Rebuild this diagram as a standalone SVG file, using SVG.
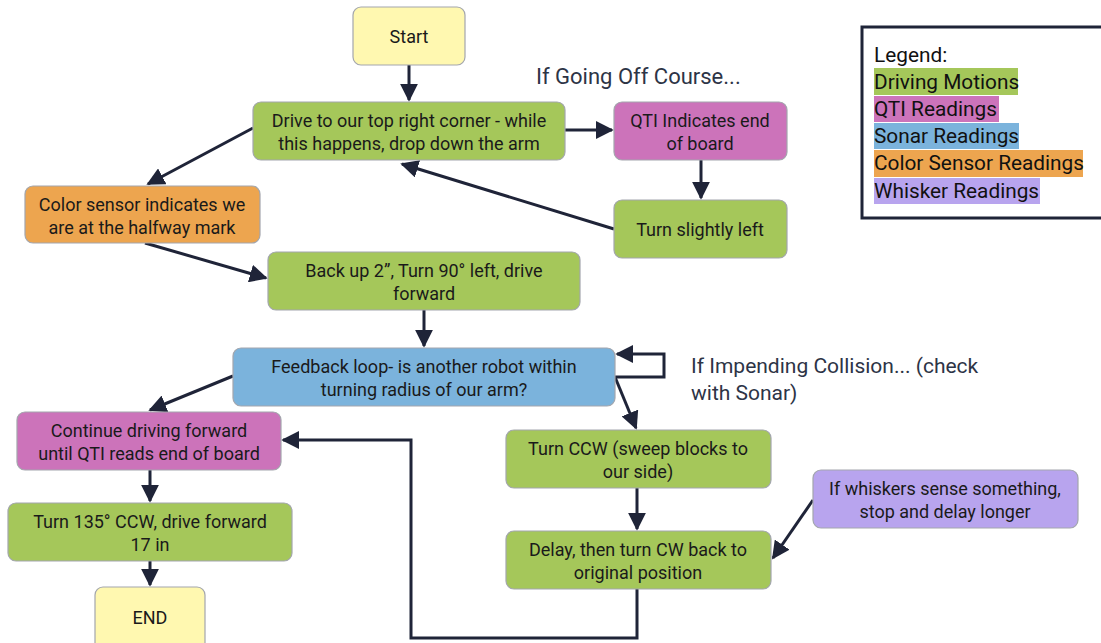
<svg xmlns="http://www.w3.org/2000/svg" width="1101" height="643" viewBox="0 0 1101 643">
<style>
.n{stroke:#a3a6ad;stroke-width:1.2}
.t{font-family:Roboto,"Noto Sans",sans-serif;font-size:18px;fill:#1a1a1a;text-anchor:middle}
.lbl{font-family:Roboto,"Noto Sans",sans-serif;font-size:21px;fill:#2d3446}
.lg{font-family:Roboto,"Noto Sans",sans-serif;font-size:20.8px;fill:#111}
.c{fill:none;stroke:#1f2438;stroke-width:3}
.g{fill:#a5c75a}.p{fill:#cc73ba}.b{fill:#7bb3dc}.o{fill:#eda54f}.v{fill:#b8a4ee}.y{fill:#fff8b0}
</style>
<defs>
<marker id="a" viewBox="0 0 10 10" refX="9" refY="5" markerWidth="6" markerHeight="6" orient="auto" markerUnits="strokeWidth">
<path d="M0,0 L10,5 L0,10 z" fill="#1f2438"/>
</marker>
</defs>
<rect width="1101" height="643" fill="#fff"/>
<g id="connectors">
<path class="c" d="M409,65 V100" marker-end="url(#a)"/>
<path class="c" d="M565,130 H612" marker-end="url(#a)"/>
<path class="c" d="M701,160 V198" marker-end="url(#a)"/>
<path class="c" d="M614,229 L402,164" marker-end="url(#a)"/>
<path class="c" d="M253,128 L148,184" marker-end="url(#a)"/>
<path class="c" d="M145,243 L266,278" marker-end="url(#a)"/>
<path class="c" d="M424,310 V346" marker-end="url(#a)"/>
<path class="c" d="M233,376 L150,410" marker-end="url(#a)"/>
<path class="c" d="M615,377 H664 V354 H617" marker-end="url(#a)"/>
<path class="c" d="M615,377 L636,428" marker-end="url(#a)"/>
<path class="c" d="M637,488 V529" marker-end="url(#a)"/>
<path class="c" d="M813,500 L773,558" marker-end="url(#a)"/>
<path class="c" d="M637,589 V638 H411 V440 H283" marker-end="url(#a)"/>
<path class="c" d="M150,470 V501" marker-end="url(#a)"/>
<path class="c" d="M150,561 V585" marker-end="url(#a)"/>
</g>
<g id="start"><rect class="n y" x="353" y="7" width="112" height="58" rx="8"/><text class="t" x="409" y="43">Start</text></g>
<g id="drive"><rect class="n g" x="253" y="102" width="312" height="58" rx="8"/><text class="t" x="409" y="127">Drive to our top right corner - while</text><text class="t" x="409" y="150">this happens, drop down the arm</text></g>
<g id="qti"><rect class="n p" x="614" y="102" width="173" height="58" rx="8"/><text class="t" x="700" y="127">QTI Indicates end</text><text class="t" x="700" y="150">of board</text></g>
<g id="turnleft"><rect class="n g" x="614" y="200" width="173" height="58" rx="8"/><text class="t" x="700" y="236">Turn slightly left</text></g>
<g id="color"><rect class="n o" x="25" y="186" width="235" height="57" rx="8"/><text class="t" x="142" y="211">Color sensor indicates we</text><text class="t" x="142" y="234">are at the halfway mark</text></g>
<g id="backup"><rect class="n g" x="268" y="252" width="312" height="58" rx="8"/><text class="t" x="424" y="277">Back up 2”, Turn 90° left, drive</text><text class="t" x="424" y="300">forward</text></g>
<g id="feedback"><rect class="n b" x="233" y="348" width="382" height="58" rx="8"/><text class="t" x="424" y="373">Feedback loop- is another robot within</text><text class="t" x="424" y="396">turning radius of our arm?</text></g>
<g id="continue"><rect class="n p" x="17" y="412" width="264" height="58" rx="8"/><text class="t" x="149" y="437">Continue driving forward</text><text class="t" x="149" y="460">until QTI reads end of board</text></g>
<g id="turnccw"><rect class="n g" x="506" y="430" width="265" height="58" rx="8"/><text class="t" x="638" y="455">Turn CCW (sweep blocks to</text><text class="t" x="638" y="478">our side)</text></g>
<g id="whisker"><rect class="n v" x="813" y="470" width="265" height="58" rx="8"/><text class="t" x="945" y="495">If whiskers sense something,</text><text class="t" x="945" y="518">stop and delay longer</text></g>
<g id="delay"><rect class="n g" x="506" y="531" width="265" height="58" rx="8"/><text class="t" x="638" y="556">Delay, then turn CW back to</text><text class="t" x="638" y="579">original position</text></g>
<g id="turn135"><rect class="n g" x="8" y="503" width="284" height="58" rx="8"/><text class="t" x="150" y="528">Turn 135° CCW, drive forward</text><text class="t" x="150" y="551">17 in</text></g>
<g id="end"><rect class="n y" x="95" y="587" width="110" height="70" rx="8"/><text class="t" x="150" y="624">END</text></g>
<g id="labels">
<text class="lbl" x="536" y="84" style="font-size:22px">If Going Off Course...</text>
<text class="lbl" x="691" y="373">If Impending Collision... (check</text>
<text class="lbl" x="691" y="400">with Sonar)</text>
</g>
<g id="legend">
<rect x="862" y="27" width="250" height="191" fill="#fff" stroke="#1f2438" stroke-width="3"/>
<rect class="g" x="874" y="68" width="144" height="27"/>
<rect class="p" x="874" y="96" width="125" height="26"/>
<rect class="b" x="874" y="123" width="145" height="26"/>
<rect class="o" x="874" y="150" width="209" height="27"/>
<rect class="v" x="874" y="178" width="166" height="26"/>
<text class="lg" x="874" y="62">Legend:</text>
<text class="lg" x="874" y="89">Driving Motions</text>
<text class="lg" x="874" y="116">QTI Readings</text>
<text class="lg" x="874" y="143">Sonar Readings</text>
<text class="lg" x="874" y="170">Color Sensor Readings</text>
<text class="lg" x="874" y="198">Whisker Readings</text>
</g>
</svg>
